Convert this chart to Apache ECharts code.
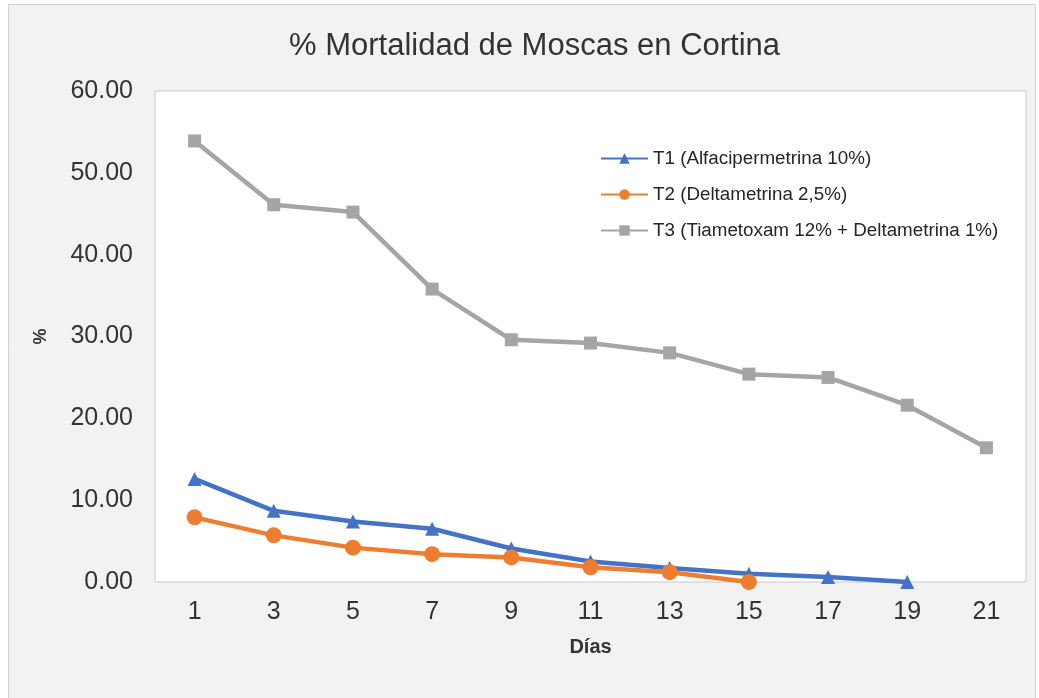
<!DOCTYPE html>
<html><head><meta charset="utf-8">
<script src="https://cdn.jsdelivr.net/npm/echarts@6/dist/echarts.min.js"></script>
<style>html,body{margin:0;padding:0;background:#fff;}#c{width:1039px;height:698px;}</style>
</head><body><div id="c"></div>
<script>
const categories = ['1','3','5','7','9','11','13','15','17','19','21'];
const seriesNames = ['T1 (Alfacipermetrina 10%)','T2 (Deltametrina 2,5%)','T3 (Tiametoxam 12% + Deltametrina 1%)'];
const t1 = [12.6, 8.7, 7.4, 6.5, 4.1, 2.5, 1.7, 1.0, 0.6, 0.0, null];
const t2 = [7.9, 5.7, 4.2, 3.4, 3.0, 1.8, 1.2, 0.0, null, null, null];
const t3 = [53.9, 46.1, 45.2, 35.8, 29.6, 29.2, 28.0, 25.4, 25.0, 21.6, 16.4];

const chart = echarts.init(document.getElementById('c'), null, {renderer:'canvas'});
const font = 'Liberation Sans, Arial, sans-serif';
chart.setOption({
  backgroundColor: '#fff',
  animation: false,
  graphic: [{type:'rect', left:8, top:4, shape:{width:1027, height:700}, style:{fill:'#f2f2f2', stroke:'#d0d0d0', lineWidth:1}, z:-10}],
  title: {text:'% Mortalidad de Moscas en Cortina', left:284, top:26,
    textStyle:{fontFamily:font, fontSize:31, fontWeight:'normal', color:'#333'}},
  grid: {left:155, top:91, right:13, bottom:116, show:true, backgroundColor:'#fff', borderColor:'#c8c8c8', borderWidth:1},
  legend: {orient:'vertical', left:595, top:144, itemGap:17, itemWidth:47, itemHeight:13,
    textStyle:{fontFamily:font, fontSize:18.8, color:'#262626'},
    data: seriesNames},
  xAxis: {type:'category', data:categories, boundaryGap:true,
    name:'Días', nameLocation:'middle', nameGap:55,
    nameTextStyle:{fontFamily:font, fontSize:20, fontWeight:'bold', color:'#333'},
    axisLine:{show:false}, axisTick:{show:false},
    axisLabel:{fontFamily:font, fontSize:25, color:'#333', margin:18}},
  yAxis: {type:'value', min:0, max:60, interval:10,
    name:'%', nameLocation:'middle', nameGap:105, nameRotate:90,
    nameTextStyle:{fontFamily:font, fontSize:18, fontWeight:'bold', color:'#333'},
    axisLine:{show:false}, axisTick:{show:false}, splitLine:{show:false},
    axisLabel:{fontFamily:font, fontSize:25, color:'#333', margin:22, formatter:v=>v.toFixed(2)}},
  series: [
    {name:seriesNames[0], type:'line', data:t1, symbol:'triangle', symbolSize:14,
      lineStyle:{color:'#4472C4', width:4.5}, itemStyle:{color:'#4472C4'}},
    {name:seriesNames[1], type:'line', data:t2, symbol:'circle', symbolSize:16,
      lineStyle:{color:'#ED7D31', width:4.5}, itemStyle:{color:'#ED7D31'}},
    {name:seriesNames[2], type:'line', data:t3, symbol:'rect', symbolSize:13,
      lineStyle:{color:'#A5A5A5', width:4.5}, itemStyle:{color:'#A5A5A5'}}
  ]
});
</script></body></html>
